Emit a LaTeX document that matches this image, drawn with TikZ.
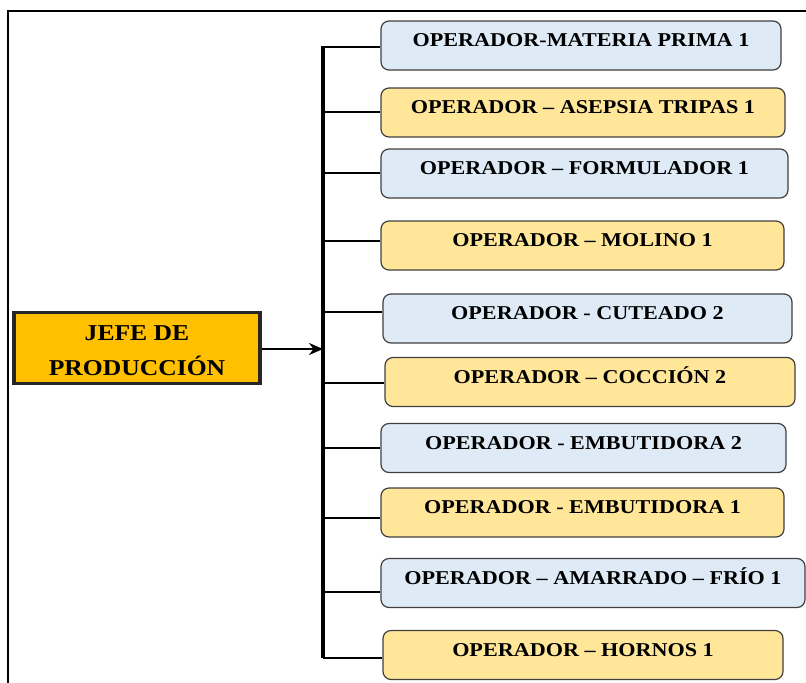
\documentclass[tikz,border=0pt]{standalone}
\usepackage{fontspec}
\setmainfont{Liberation Serif}[FakeStretch=1.13]
\usetikzlibrary{arrows.meta}
\definecolor{opblue}{HTML}{DEEBF7}
\definecolor{opyellow}{HTML}{FFE699}
\definecolor{jefefill}{HTML}{FFC000}
\definecolor{opborder}{HTML}{404040}
\tikzset{
  opbox/.style={draw=opborder, line width=0.9pt, rounded corners=6pt, inner sep=0pt,
    text height=19.1pt, text depth=17.6pt, minimum height=36.75pt,
    font=\fontsize{14.7pt}{17pt}\selectfont\bfseries, text=black},
  boxw/.style={minimum width=#1*0.75pt},
  bluebox/.style={opbox, fill=opblue},
  yellowbox/.style={opbox, fill=opyellow},
  jefebox/.style={draw=black!85, line width=2.4pt, fill=jefefill, inner sep=0pt,
    minimum width=184.5pt, minimum height=52.5pt,
    font=\fontsize{17pt}{26.5pt}\selectfont\bfseries, text=black},
  bus/.style={line width=2.3pt, black},
  branch/.style={line width=1.8pt, black},
  frame/.style={line width=1.2pt, black}
}
\begin{document}
\begin{tikzpicture}[x=0.75pt, y=-0.75pt]
\useasboundingbox (0,0) rectangle (806,682);
\begin{scope}
\clip (0,0) rectangle (806,682);
\draw[frame] (8,700) -- (8,11) -- (830,11);
\end{scope}
% operator boxes
\node[bluebox, boxw=400] (o1) at (581,45.5) {OPERADOR-MATERIA PRIMA 1};
\node[yellowbox, boxw=404] (o2) at (583,112.5) {OPERADOR – ASEPSIA TRIPAS 1};
\node[bluebox, boxw=407] (o3) at (584.5,173.5) {OPERADOR – FORMULADOR 1};
\node[yellowbox, boxw=403] (o4) at (582.5,245.5) {OPERADOR – MOLINO 1};
\node[bluebox, boxw=409] (o5) at (587.5,318.5) {OPERADOR - CUTEADO 2};
\node[yellowbox, boxw=410] (o6) at (590,382) {OPERADOR – COCCIÓN 2};
\node[bluebox, boxw=405] (o7) at (583.5,448) {OPERADOR - EMBUTIDORA 2};
\node[yellowbox, boxw=403] (o8) at (582.5,512.5) {OPERADOR - EMBUTIDORA 1};
\node[bluebox, boxw=424] (o9) at (593,583) {OPERADOR – AMARRADO – FRÍO 1};
\node[yellowbox, boxw=400] (o10) at (583,655) {OPERADOR – HORNOS 1};
% jefe
\node[jefebox] (jefe) at (137,348) {\raisebox{-2pt}[\height][\depth]{\begin{tabular}{@{}c@{}}JEFE DE\\PRODUCCIÓN\end{tabular}}};
% bus
\coordinate (b1) at (323,47);
\coordinate (b2) at (323,112);
\coordinate (b3) at (323,173);
\coordinate (b4) at (323,241);
\coordinate (b5) at (323,312);
\coordinate (b6) at (323,383);
\coordinate (b7) at (323,448);
\coordinate (b8) at (323,518);
\coordinate (b9) at (323,592);
\coordinate (b10) at (323,658);
\coordinate (barrow) at (323,349);
\draw[bus] (b1) -- (b10);
\draw[branch] ([xshift=-1.5pt]b1) -- (b1 -| o1.west);
\foreach \i in {2,...,10}{
  \draw[branch] (b\i) -- (b\i -| o\i.west);
}
\draw[branch, line width=2pt, -{Stealth[length=10.5pt,width=9pt]}] (jefe.east |- barrow) -- (barrow);
\end{tikzpicture}
\end{document}
